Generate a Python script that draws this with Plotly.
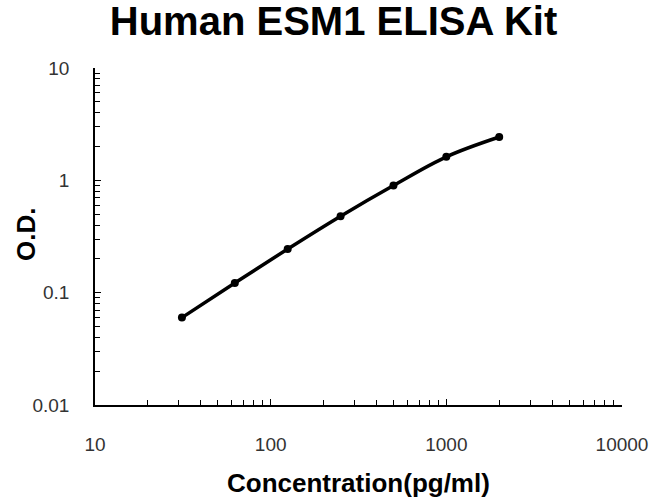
import plotly.graph_objects as go

concentration = [31.25, 62.5, 125, 250, 500, 1000, 2000]
od_values = [0.060, 0.122, 0.245, 0.48, 0.90, 1.62, 2.43]
x_tick_vals = [10, 100, 1000, 10000]
x_tick_text = ["10", "100", "1000", "10000"]
y_tick_vals = [0.01, 0.1, 1, 10]
y_tick_text = ["0.01", "0.1", "1", "10"]

W, H = 654, 497
ML, MR, MT, MB = 95, 32, 68, 92
PW, PH = W - ML - MR, H - MT - MB

fig = go.Figure()
fig.add_trace(go.Scatter(
    x=concentration, y=od_values, mode="lines+markers",
    line=dict(color="black", width=3.5, shape="spline", smoothing=1.0),
    marker=dict(color="black", size=8),
    showlegend=False,
))

font_main = "Liberation Sans, Arial, sans-serif"
fig.update_layout(
    width=W, height=H,
    paper_bgcolor="white", plot_bgcolor="white",
    margin=dict(l=ML, r=MR, t=MT, b=MB, autoexpand=False),
    title=dict(text="<b>Human ESM1 ELISA Kit</b>", x=0.51, xanchor="center",
               y=1 - 21 / H, yanchor="middle", automargin=False,
               font=dict(family=font_main, size=40, color="black")),
    font=dict(family=font_main),
)
fig.add_annotation(text="<b>Concentration(pg/ml)</b>", xref="paper", yref="paper",
                   x=(358 - ML) / PW, y=-(483 - (H - MB)) / PH,
                   xanchor="center", yanchor="middle", showarrow=False,
                   font=dict(size=26, color="black", family=font_main))
fig.add_annotation(text="<b>O.D.</b>", xref="paper", yref="paper",
                   x=-(ML - 26) / PW, y=(H - MB - 235) / PH, textangle=-90,
                   xanchor="center", yanchor="middle", showarrow=False,
                   font=dict(size=26, color="black", family=font_main))
fig.update_xaxes(
    type="log", range=[1, 4], automargin=False,
    tickvals=x_tick_vals, ticktext=x_tick_text,
    showline=True, linecolor="black", linewidth=1.5,
    showgrid=False, zeroline=False,
    ticks="inside", ticklen=6, tickcolor="black", tickwidth=1,
    ticklabelstandoff=21,
    tickfont=dict(size=19, color="#333333"),
    minor=dict(tickvals=[v * m for v in [10, 100, 1000] for m in range(2, 10)],
               ticks="inside", ticklen=5, tickcolor="black", tickwidth=1, showgrid=False),
)
fig.update_yaxes(
    type="log", range=[-2, 1], automargin=False,
    tickvals=y_tick_vals, ticktext=y_tick_text,
    showline=True, linecolor="black", linewidth=1.5,
    showgrid=False, zeroline=False,
    ticks="inside", ticklen=6, tickcolor="black", tickwidth=1,
    ticklabelstandoff=20,
    tickfont=dict(size=19, color="#333333"),
    minor=dict(tickvals=[v * m for v in [0.01, 0.1, 1] for m in range(2, 10)],
               ticks="inside", ticklen=5, tickcolor="black", tickwidth=1, showgrid=False),
)

fig.write_html("out.html", config={"displayModeBar": False},
               post_script="document.body.style.margin='0';")
